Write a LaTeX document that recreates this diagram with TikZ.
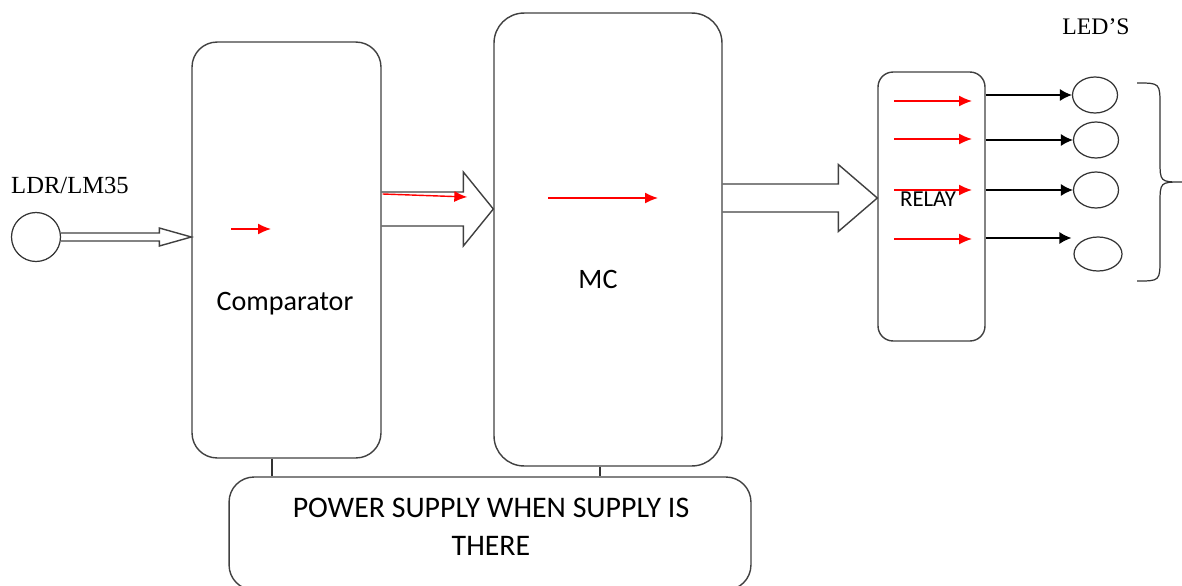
\documentclass[tikz,border=0pt]{standalone}
\usepackage{fontspec}
\setmainfont{Liberation Serif}
\newfontfamily\calibri{Carlito}
\usetikzlibrary{arrows.meta,positioning,calc,shapes.geometric}

% hollow block arrow: start, x of tip, half shaft, half head, head length
\newcommand{\hollowarrow}[5]{%
  \draw[hollow] let \p1=(#1), \p2=(#2) in
    (\x1,\y1+#3) -- (\x2-#5,\y1+#3) -- (\x2-#5,\y1+#4) -- (\x2,\y1)
    -- (\x2-#5,\y1-#4) -- (\x2-#5,\y1-#3) -- (\x1,\y1-#3);}

\begin{document}
\begin{tikzpicture}[
  x=0.02cm, y=-0.02cm,
  blk/.style={draw=black!75,line width=0.8pt,rounded corners=#1},
  blk/.default=0.5cm,
  hollow/.style={draw=black!75,line width=0.8pt,line join=miter},
  redarr/.style={red,line width=0.8pt,-{Latex[length=2.6mm,width=2.2mm]}},
  outarr/.style={black,line width=0.7pt,-{Latex[length=2.4mm,width=2.4mm]}},
  wire/.style={draw=black!80,line width=0.7pt},
  led/.style={draw=black!80,line width=0.7pt,ellipse,minimum width=0.9cm,minimum height=0.72cm},
  sans/.style={font=\calibri\fontsize{16}{22}\selectfont,align=center},
]
  \useasboundingbox (0,0) rectangle (1182,585);
  \clip (0,0) rectangle (1182,585);

  % blocks
  \node[blk, minimum width=3.78cm, minimum height=8.32cm] (comp) at (286.5,250) {};
  \node[blk=0.6cm, minimum width=4.56cm, minimum height=9.06cm] (mc) at (608,239.5) {};
  \node[blk=0.3cm, minimum width=2.14cm, minimum height=5.38cm] (relay) at (931.5,206.5) {};
  \node[blk, minimum width=10.44cm, minimum height=2.26cm] (power) at (490,533.5) {};
  \node[circle, draw=black!80, line width=0.7pt, minimum size=0.98cm] (ldr) at (36,237) {};

  % texts
  \node[font=\fontsize{14}{16}\selectfont] (ldrlbl) at (70,185) {LDR/LM35};
  \node[sans] (comptxt) at (285,304) {Comparator};
  \node[sans] (mctxt) at (598,279) {MC};
  \node[font=\calibri\fontsize{13}{15}\selectfont] (relaytxt) at (928,199) {RELAY};
  \node[sans, font=\calibri\fontsize{17}{21.5}\selectfont] (pstxt) at (491,527)
    {POWER SUPPLY WHEN SUPPLY IS\\THERE};
  \node[font=\fontsize{13.5}{15}\selectfont] (ledlbl) at (1096,27) {LED’S};

  % LEDs
  \node[led] (led1) at (1095,95) {};
  \node[led] (led2) at (1096,140) {};
  \node[led] (led3) at (1096,190) {};
  \node[led, minimum width=0.96cm, minimum height=0.68cm] (led4) at (1098,254) {};

  % block arrows
  \hollowarrow{ldr.east}{comp.west}{0.08cm}{0.18cm}{0.64cm}
  \hollowarrow{$(comp.east)+(0,-41)$}{mc.west}{0.34cm}{0.74cm}{0.6cm}
  \hollowarrow{$(mc.east)+(0,-41.5)$}{relay.west}{0.28cm}{0.67cm}{0.78cm}

  % red signal arrows
  \draw[redarr] ($(comp.center)+(-55.5,-21)$) -- ++(40,0);
  \draw[redarr] ($(comp.east)+(1,-56)$) -- ($(mc.west)+(-26,-42.5)$);
  \draw[redarr] ($(mc.center)+(-60,-41.5)$) -- ++(110,0);
  \foreach \dy in {-105.5,-67.5,-16.5,32.5}
    \draw[redarr] ($(relay.center)+(-37.5,\dy)$) -- ++(78,0);

  % relay outputs
  \foreach \l in {led1,led2,led3}
    \draw[outarr] (relay.east |- \l.west) -- (\l.west);
  \draw[outarr] (relay.east |- 0,238) -- ($(led4.west)+(-2,-16)$);

  % brace
  \draw[wire] (1137,83) .. controls (1160,83) .. (1160,106) -- (1160,160)
    .. controls (1160,182) .. (1182,182) .. controls (1160,182) .. (1160,204)
    -- (1160,258) .. controls (1160,281) .. (1137,281);

  % supply lines
  \draw[wire] ($(comp.south)+(-14.5,0)$) coordinate (c1) -- (c1 |- power.north);
  \draw[wire] ($(mc.south)+(-8,0)$) coordinate (c2) -- (c2 |- power.north);
\end{tikzpicture}
\end{document}
